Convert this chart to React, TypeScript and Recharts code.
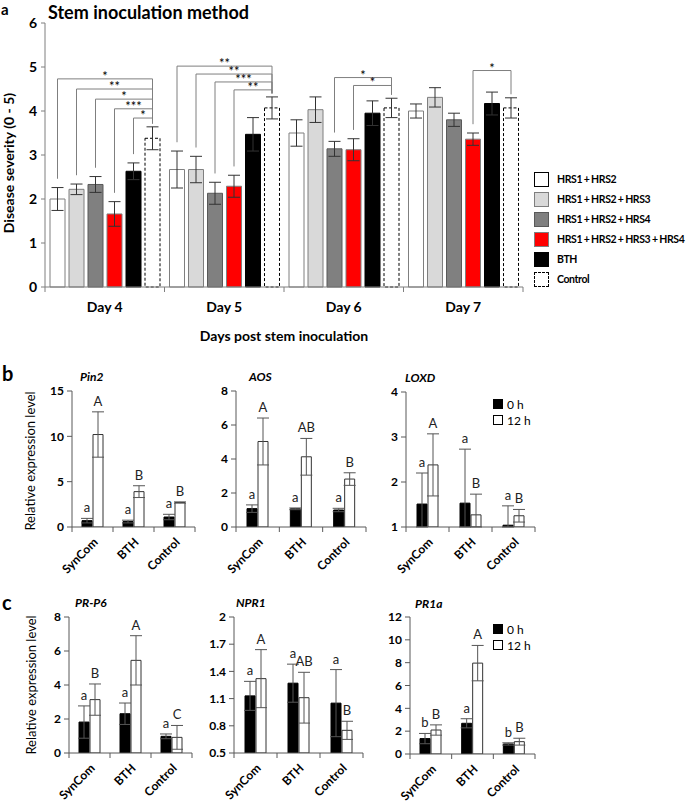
import React from 'react';
import { BarChart, Bar, XAxis, YAxis, ErrorBar, Legend, LabelList } from 'recharts';

const FONT = "Lato, 'Noto Sans', sans-serif";
const AX = '#7f7f7f';
const GAX = '#595959';

// ---- panel a: disease severity ----
const days = ['Day 4', 'Day 5', 'Day 6', 'Day 7'];
const hrs12 = [2.0, 2.67, 3.5, 4.0];
const hrs12Err = [0.26, 0.42, 0.3, 0.16];
const hrs123 = [2.22, 2.67, 4.03, 4.31];
const hrs123Err = [0.12, 0.3, 0.29, 0.22];
const hrs124 = [2.33, 2.13, 3.14, 3.8];
const hrs124Err = [0.18, 0.25, 0.17, 0.15];
const hrs1234 = [1.66, 2.29, 3.12, 3.36];
const hrs1234Err = [0.28, 0.25, 0.25, 0.14];
const bth = [2.63, 3.47, 3.95, 4.17];
const bthErr = [0.19, 0.38, 0.28, 0.26];
const control = [3.38, 4.07, 4.07, 4.07];
const controlErr = [0.26, 0.25, 0.22, 0.23];
const severityTicks = [0, 1, 2, 3, 4, 5, 6];

// significance brackets (each compares a treatment with Control on the same day)
const sigDay = [0, 0, 0, 0, 0, 1, 1, 1, 1, 2, 2, 3];
const sigFrom = [0, 1, 2, 3, 4, 0, 1, 2, 3, 2, 3, 3];
const sigLevel = [4.73, 4.5, 4.27, 4.05, 3.84, 5.02, 4.84, 4.66, 4.48, 4.76, 4.58, 4.92];
const sigMark = ['*', '**', '*', '***', '*', '**', '**', '***', '**', '*', '*', '*'];

// ---- panels b, c: relative expression ----
const treatments = ['SynCom', 'BTH', 'Control'];

const pin2_0h = [0.7, 0.6, 1.1];
const pin2_0hErr = [0.25, 0.15, 0.3];
const pin2_12h = [10.2, 3.9, 2.7];
const pin2_12hErr = [2.5, 0.65, 0.07];
const pin2Letters0 = ['a', 'a', 'a'];
const pin2Letters12 = ['A', 'B', 'B'];

const aos_0h = [1.08, 1.07, 1.0];
const aos_0hErr = [0.22, 0.05, 0.1];
const aos_12h = [5.03, 4.13, 2.82];
const aos_12hErr = [1.38, 1.08, 0.37];
const aosLetters0 = ['a', 'a', 'a'];
const aosLetters12 = ['A', 'AB', 'B'];

const loxd_0h = [1.51, 1.53, 1.04];
const loxd_0hErr = [0.69, 1.2, 0.43];
const loxd_12h = [2.38, 1.27, 1.25];
const loxd_12hErr = [0.69, 0.46, 0.14];
const loxdLetters0 = ['a', 'a', 'a'];
const loxdLetters12 = ['A', 'B', 'B'];

const prp6_0h = [1.82, 2.31, 0.98];
const prp6_0hErr = [0.95, 0.63, 0.14];
const prp6_12h = [3.14, 5.45, 0.92];
const prp6_12hErr = [0.92, 1.45, 0.7];
const prp6Letters0 = ['a', 'a', 'a'];
const prp6Letters12 = ['B', 'A', 'C'];

const npr1_0h = [1.13, 1.27, 1.05];
const npr1_0hErr = [0.16, 0.21, 0.37];
const npr1_12h = [1.32, 1.11, 0.75];
const npr1_12hErr = [0.32, 0.28, 0.1];
const npr1Letters0 = ['a', 'a', 'a'];
const npr1Letters12 = ['A', 'AB', 'B'];

const pr1a_0h = [1.35, 2.69, 0.88];
const pr1a_0hErr = [0.45, 0.4, 0.1];
const pr1a_12h = [2.1, 7.96, 1.08];
const pr1a_12hErr = [0.45, 1.55, 0.3];
const pr1aLetters0 = ['b', 'a', 'b'];
const pr1aLetters12 = ['B', 'A', 'B'];

const series = [
  { key: 'hrs12', name: 'HRS1 + HRS2', values: hrs12, errs: hrs12Err, fill: '#ffffff', stroke: '#7f7f7f' },
  { key: 'hrs123', name: 'HRS1 + HRS2 + HRS3', values: hrs123, errs: hrs123Err, fill: '#d9d9d9', stroke: '#7f7f7f' },
  { key: 'hrs124', name: 'HRS1 + HRS2 + HRS4', values: hrs124, errs: hrs124Err, fill: '#808080', stroke: '#595959' },
  { key: 'hrs1234', name: 'HRS1 + HRS2 + HRS3 + HRS4', values: hrs1234, errs: hrs1234Err, fill: '#ff0000', stroke: '#7f7f7f' },
  { key: 'bth', name: 'BTH', values: bth, errs: bthErr, fill: '#000000', stroke: '#000000' },
  { key: 'control', name: 'Control', values: control, errs: controlErr, fill: '#ffffff', stroke: '#000000', dash: '3 2' },
];

const dataA = days.map((day, i) => {
  const row: any = { day };
  series.forEach((s) => {
    row[s.key] = s.values[i];
    row[s.key + 'Err'] = s.errs[i];
  });
  return row;
});

const PA = { left: 45, top: 23, width: 478, height: 264 };
const BAR_A = 15;
const GAP_A = 4;
const bandA = PA.width / days.length;

function Caption({ x, y, children, size = 12, weight = 400, italic = false, rotate = false, center = false }: any) {
  return (
    <div
      style={{
        position: 'absolute',
        left: x,
        top: y,
        fontSize: size,
        fontWeight: weight,
        fontStyle: italic ? 'italic' : 'normal',
        lineHeight: 1,
        whiteSpace: 'nowrap',
        color: '#000',
        transform: rotate ? 'translate(-50%,-50%) rotate(-90deg)' : center ? 'translate(-50%,-50%)' : 'translate(0,-50%)',
      }}
    >
      {children}
    </div>
  );
}

function LegendA() {
  return (
    <div style={{ fontFamily: FONT }}>
      {series.map((s) => (
        <div key={s.key} style={{ display: 'flex', alignItems: 'center', height: 20, whiteSpace: 'nowrap' }}>
          <div
            style={{
              width: 13,
              height: 13,
              flex: 'none',
              background: s.fill,
              border: `1px ${s.dash ? 'dashed' : 'solid'} ${s.key === 'hrs12' ? '#000' : s.stroke}`,
              marginRight: 8,
            }}
          />
          <span style={{ fontSize: 10.5, fontWeight: 700, letterSpacing: -0.4, wordSpacing: -0.5 }}>{s.name}</span>
        </div>
      ))}
    </div>
  );
}

// drawn from the Control bar of each day: brackets to the compared treatment bars
const bracketLayer = (props: any) => {
  const vb = props.viewBox || props;
  const d = props.index;
  const bx = Number(vb.x);
  const bw = Number(vb.width);
  const bh = Number(vb.height);
  const by = Number(vb.y);
  const cx2 = bx + bw / 2;
  const ppu = bh / control[d];
  const zero = by + bh;
  const py = (v: number) => zero - v * ppu;
  const items: any[] = [];
  sigDay.forEach((dd, k) => {
    if (dd !== d) return;
    const s = sigFrom[k];
    const from = series[s];
    const cx1 = cx2 - (series.length - 1 - s) * (BAR_A + GAP_A);
    const yl = py(sigLevel[k]);
    const y1 = py(from.values[d] + from.errs[d] + 0.2);
    const y2 = py(control[d] + controlErr[d] + 0.08);
    items.push(<path key={'p' + k} d={`M${cx1},${y1}V${yl}H${cx2}V${y2}`} fill="none" stroke={AX} strokeWidth={1} />);
    items.push(
      <text key={'t' + k} x={(cx1 + cx2) / 2} y={yl + 2} textAnchor="middle" fontSize={13} fontFamily={FONT} fill="#000">
        {sigMark[k]}
      </text>
    );
  });
  return <g key={'b' + d}>{items}</g>;
};

function DiseaseChart() {
  const dayTick = (props: any) => {
    const { x, y, payload, index } = props;
    const half = bandA / 2;
    return (
      <g>
        <line x1={x - half} x2={x - half} y1={y} y2={y + 5} stroke={AX} />
        {index === days.length - 1 && <line x1={x + half} x2={x + half} y1={y} y2={y + 5} stroke={AX} />}
        <text x={x} y={y + 25} textAnchor="middle" fontSize={14} fontWeight={700} fontFamily={FONT} fill="#000">
          {payload.value}
        </text>
      </g>
    );
  };

  return (
    <div style={{ position: 'absolute', left: 0, top: 0 }}>
      <BarChart
        width={698}
        height={360}
        data={dataA}
        margin={{ top: PA.top, right: 698 - PA.left - PA.width, bottom: 13, left: 5 }}
        barSize={BAR_A}
        barGap={GAP_A}
      >
        <XAxis
          dataKey="day"
          interval={0}
          height={60}
          tickLine={false}
          tickSize={0}
          tickMargin={0}
          axisLine={{ stroke: AX }}
          tick={dayTick}
        />
        <XAxis xAxisId="top" dataKey="day" orientation="top" height={0} tick={false} tickLine={false} axisLine={{ stroke: AX }} />
        <YAxis
          domain={[0, 6]}
          ticks={severityTicks}
          interval={0}
          width={40}
          tickSize={4}
          tickMargin={4}
          axisLine={{ stroke: AX }}
          tickLine={{ stroke: AX }}
          tick={{ fill: '#000', fontSize: 14, fontWeight: 700, fontFamily: FONT }}
        />
        <YAxis yAxisId="right" orientation="right" domain={[0, 6]} width={0} tick={false} tickLine={false} axisLine={{ stroke: AX }} />
        {series.map((s) => (
          <Bar
            key={s.key}
            dataKey={s.key}
            name={s.name}
            fill={s.fill}
            stroke={s.stroke}
            strokeDasharray={s.dash}
            isAnimationActive={false}
          >
            <ErrorBar dataKey={s.key + 'Err'} width={6} stroke="#333" strokeWidth={1} />
            {s.key === 'control' && <LabelList dataKey="control" content={bracketLayer} />}
          </Bar>
        ))}
        <Legend
          layout="vertical"
          align="center"
          verticalAlign="middle"
          wrapperStyle={{ left: 534, top: 169, width: 160, height: 122 }}
          content={() => <LegendA />}
        />
      </BarChart>
    </div>
  );
}

function HoursLegend() {
  const row = (fill: string, label: string) => (
    <div style={{ display: 'flex', alignItems: 'center', height: 16, whiteSpace: 'nowrap' }}>
      <div style={{ width: 8, height: 8, flex: 'none', background: fill, border: '1px solid #000', marginRight: 4 }} />
      <span style={{ fontSize: 12, fontFamily: FONT }}>{label}</span>
    </div>
  );
  return (
    <div>
      {row('#000', '0 h')}
      {row('#fff', '12 h')}
    </div>
  );
}

const GML = 40;
const GMT = 14;
const GMR = 6;
const GXH = 56;

function GenePanel({ p }: any) {
  const base = p.domain[0];
  const ppu = p.h / (p.domain[1] - p.domain[0]);
  const band = p.w / treatments.length;
  const data = treatments.map((t, i) => ({
    t,
    h0: p.h0[i],
    h12: p.h12[i],
    e0: [Math.min(p.e0[i], p.h0[i] - base), p.e0[i]],
    e12: [Math.min(p.e12[i], p.h12[i] - base), p.e12[i]],
  }));

  const letters = (ls: string[], errs: number[]) => (props: any) => {
    const vb = props.viewBox || props;
    const i = props.index;
    const cx = Number(vb.x) + Number(vb.width) / 2;
    const top = Number(vb.y) - errs[i] * ppu;
    return (
      <text key={'t' + i} x={cx} y={top - 6} textAnchor="middle" fontSize={13} fontFamily={FONT} fill="#222">
        {ls[i]}
      </text>
    );
  };

  const tick = (props: any) => {
    const { x, y, payload, index } = props;
    const half = band / 2;
    const ax = x + 6;
    const ay = y + 16;
    return (
      <g>
        <line x1={x - half} x2={x - half} y1={y} y2={y + 5} stroke={GAX} />
        {index === treatments.length - 1 && <line x1={x + half} x2={x + half} y1={y} y2={y + 5} stroke={GAX} />}
        <text
          x={ax}
          y={ay}
          textAnchor="end"
          transform={`rotate(-45 ${ax} ${ay})`}
          fontSize={12}
          fontWeight={700}
          fontFamily={FONT}
          fill="#000"
        >
          {payload.value}
        </text>
      </g>
    );
  };

  return (
    <div style={{ position: 'absolute', left: p.x - GML, top: p.y - GMT }}>
      <BarChart
        width={p.w + GML + GMR}
        height={p.h + GMT + GXH}
        data={data}
        margin={{ top: GMT, right: GMR, bottom: 0, left: 4 }}
        barSize={10}
        barGap={1}
      >
        <XAxis
          dataKey="t"
          interval={0}
          height={GXH}
          tickLine={false}
          tickSize={0}
          tickMargin={0}
          axisLine={{ stroke: GAX }}
          tick={tick}
        />
        <XAxis xAxisId="top" dataKey="t" orientation="top" height={0} tick={false} tickLine={false} axisLine={{ stroke: GAX }} />
        <YAxis
          domain={p.domain}
          ticks={p.ticks}
          interval={0}
          allowDataOverflow
          width={36}
          tickSize={5}
          tickMargin={3}
          axisLine={{ stroke: GAX }}
          tickLine={{ stroke: GAX }}
          tick={{ fill: '#000', fontSize: 12, fontWeight: 700, fontFamily: FONT }}
        />
        <YAxis yAxisId="right" orientation="right" domain={p.domain} width={0} tick={false} tickLine={false} axisLine={{ stroke: GAX }} />
        <Bar dataKey="h0" name="0 h" fill="#000" stroke="#000" isAnimationActive={false}>
          <ErrorBar dataKey="e0" width={6} stroke="#555" strokeWidth={1} />
          <LabelList dataKey="h0" content={letters(p.l0, p.e0)} />
        </Bar>
        <Bar dataKey="h12" name="12 h" fill="#fff" stroke="#333" isAnimationActive={false}>
          <ErrorBar dataKey="e12" width={6} stroke="#555" strokeWidth={1} />
          <LabelList dataKey="h12" content={letters(p.l12, p.e12)} />
        </Bar>
        {p.legend && (
          <Legend
            layout="vertical"
            align="center"
            verticalAlign="middle"
            wrapperStyle={{ left: GML + p.w - 42, top: GMT + 4, width: 44, height: 34 }}
            content={() => <HoursLegend />}
          />
        )}
      </BarChart>
    </div>
  );
}

const genePanels = [
  { gene: 'Pin2', x: 72, y: 391, w: 123, h: 136, domain: [0, 15], ticks: [0, 5, 10, 15], h0: pin2_0h, e0: pin2_0hErr, h12: pin2_12h, e12: pin2_12hErr, l0: pin2Letters0, l12: pin2Letters12, tx: 80, ty: 377 },
  { gene: 'AOS', x: 236, y: 391, w: 130, h: 136, domain: [0, 8], ticks: [0, 2, 4, 6, 8], h0: aos_0h, e0: aos_0hErr, h12: aos_12h, e12: aos_12hErr, l0: aosLetters0, l12: aosLetters12, tx: 249, ty: 377 },
  { gene: 'LOXD', x: 406, y: 392, w: 129, h: 135, domain: [1, 4], ticks: [1, 2, 3, 4], h0: loxd_0h, e0: loxd_0hErr, h12: loxd_12h, e12: loxd_12hErr, l0: loxdLetters0, l12: loxdLetters12, tx: 405, ty: 378, legend: true },
  { gene: 'PR-P6', x: 69, y: 617, w: 123, h: 136, domain: [0, 8], ticks: [0, 2, 4, 6, 8], h0: prp6_0h, e0: prp6_0hErr, h12: prp6_12h, e12: prp6_12hErr, l0: prp6Letters0, l12: prp6Letters12, tx: 75, ty: 603 },
  { gene: 'NPR1', x: 234, y: 617, w: 129, h: 136, domain: [0.5, 2], ticks: [0.5, 0.8, 1.1, 1.4, 1.7, 2], h0: npr1_0h, e0: npr1_0hErr, h12: npr1_12h, e12: npr1_12hErr, l0: npr1Letters0, l12: npr1Letters12, tx: 236, ty: 603 },
  { gene: 'PR1a', x: 410, y: 617, w: 125, h: 137, domain: [0, 12], ticks: [0, 2, 4, 6, 8, 10, 12], h0: pr1a_0h, e0: pr1a_0hErr, h12: pr1a_12h, e12: pr1a_12hErr, l0: pr1aLetters0, l12: pr1aLetters12, tx: 415, ty: 604, legend: true },
];

export default function App() {
  return (
    <div style={{ position: 'absolute', left: 0, top: 0, width: 698, height: 802, background: '#fff', fontFamily: FONT, overflow: 'hidden' }}>
      <DiseaseChart />
      <Caption x={1} y={9} size={15} weight={700}>a</Caption>
      <Caption x={48} y={12} size={18} weight={700}>Stem inoculation method</Caption>
      <Caption x={9} y={163} size={14} weight={700} rotate>Disease severity (0 - 5)</Caption>
      <Caption x={284} y={336} size={14} weight={700} center>Days post stem inoculation</Caption>

      {genePanels.map((p) => (
        <GenePanel key={p.gene} p={p} />
      ))}
      {genePanels.map((p) => (
        <Caption key={'g' + p.gene} x={p.tx} y={p.ty} size={12} weight={700} italic>
          {p.gene}
        </Caption>
      ))}
      <Caption x={2} y={373} size={20} weight={700}>b</Caption>
      <Caption x={2} y={602} size={20} weight={700}>c</Caption>
      <Caption x={30} y={461} size={13} rotate>Relative expression level</Caption>
      <Caption x={31} y={685} size={13} rotate>Relative expression level</Caption>
    </div>
  );
}
